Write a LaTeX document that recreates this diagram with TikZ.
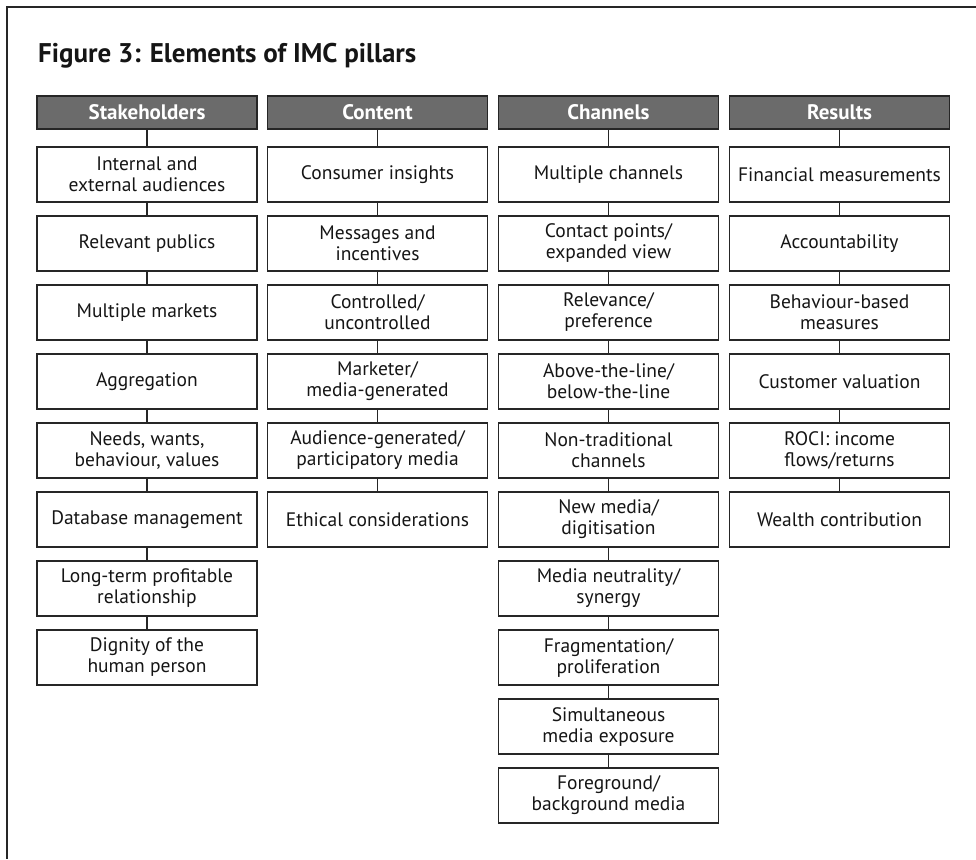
\documentclass[tikz,border=0pt]{standalone}
\usepackage{fontspec}
\setmainfont{PT Sans}
\definecolor{headfill}{HTML}{6B6B6B}
\definecolor{edge}{HTML}{262626}
\definecolor{ink}{HTML}{151515}
\tikzset{
  pillarhead/.style={draw=edge, line width=1.6pt, fill=headfill, text=white,
    minimum width=220pt, minimum height=33pt, inner sep=0pt,
    font=\fontsize{21}{22}\selectfont\bfseries},
  element/.style={draw=edge, line width=1.5pt, fill=white, text=ink,
    minimum width=220pt, minimum height=55pt, inner sep=0pt, align=center,
    font=\fontsize{19.5}{21}\selectfont},
  link/.style={draw=edge, line width=1.2pt},
}
\begin{document}
\begin{tikzpicture}[x=1pt,y=-1pt]
  \useasboundingbox (0,0) rectangle (976,859);
  % open frame: top and left rules only
  \draw[edge, line width=1.8pt] (976,7) -- (7,7) -- (7,859);
  \node[anchor=base west, text=ink, inner sep=0pt,
        font=\fontsize{27}{30}\selectfont\bfseries] (title) at (38,63)
        {Figure 3: Elements of IMC pillars};

  % column headers
  \node[pillarhead] (sh) at (147,112.5) {Stakeholders};
  \node[pillarhead] (ct) at (377.5,112.5) {Content};
  \node[pillarhead] (ch) at (608.5,112.5) {Channels};
  \node[pillarhead] (rs) at (839.5,112.5) {Results};

  % Stakeholders
  \node[element] (sh1) at (147,174.5) {Internal and\\external audiences};
  \node[element] (sh2) at (147,243.5) {Relevant publics};
  \node[element] (sh3) at (147,312.5) {Multiple markets};
  \node[element] (sh4) at (147,381.5) {Aggregation};
  \node[element] (sh5) at (147,450.5) {Needs, wants,\\behaviour, values};
  \node[element] (sh6) at (147,519.5) {Database management};
  \node[element] (sh7) at (147,588.5) {Long-term profitable\\relationship};
  \node[element] (sh8) at (147,657.5) {Dignity of the\\human person};

  % Content
  \node[element] (ct1) at (377.5,174.5) {Consumer insights};
  \node[element] (ct2) at (377.5,243.5) {Messages and\\incentives};
  \node[element] (ct3) at (377.5,312.5) {Controlled/\\uncontrolled};
  \node[element] (ct4) at (377.5,381.5) {Marketer/\\media-generated};
  \node[element] (ct5) at (377.5,450.5) {Audience-generated/\\participatory media};
  \node[element] (ct6) at (377.5,519.5) {Ethical considerations};

  % Channels
  \node[element] (ch1) at (608.5,174.5) {Multiple channels};
  \node[element] (ch2) at (608.5,243.5) {Contact points/\\expanded view};
  \node[element] (ch3) at (608.5,312.5) {Relevance/\\preference};
  \node[element] (ch4) at (608.5,381.5) {Above-the-line/\\below-the-line};
  \node[element] (ch5) at (608.5,450.5) {Non-traditional\\channels};
  \node[element] (ch6) at (608.5,519.5) {New media/\\digitisation};
  \node[element] (ch7) at (608.5,588.5) {Media neutrality/\\synergy};
  \node[element] (ch8) at (608.5,657.5) {Fragmentation/\\proliferation};
  \node[element] (ch9) at (608.5,726.5) {Simultaneous\\media exposure};
  \node[element] (ch10) at (608.5,795.5) {Foreground/\\background media};

  % Results
  \node[element] (rs1) at (839.5,174.5) {Financial measurements};
  \node[element] (rs2) at (839.5,243.5) {Accountability};
  \node[element] (rs3) at (839.5,312.5) {Behaviour-based\\measures};
  \node[element] (rs4) at (839.5,381.5) {Customer valuation};
  \node[element] (rs5) at (839.5,450.5) {ROCI: income\\flows/returns};
  \node[element] (rs6) at (839.5,519.5) {Wealth contribution};

  % vertical links down each pillar
  \draw[link] (sh) -- (sh1);
  \foreach \a/\b in {1/2,2/3,3/4,4/5,5/6,6/7,7/8} \draw[link] (sh\a) -- (sh\b);
  \draw[link] (ct) -- (ct1);
  \foreach \a/\b in {1/2,2/3,3/4,4/5,5/6} \draw[link] (ct\a) -- (ct\b);
  \draw[link] (ch) -- (ch1);
  \foreach \a/\b in {1/2,2/3,3/4,4/5,5/6,6/7,7/8,8/9,9/10} \draw[link] (ch\a) -- (ch\b);
  \draw[link] (rs) -- (rs1);
  \foreach \a/\b in {1/2,2/3,3/4,4/5,5/6} \draw[link] (rs\a) -- (rs\b);
\end{tikzpicture}
\end{document}
